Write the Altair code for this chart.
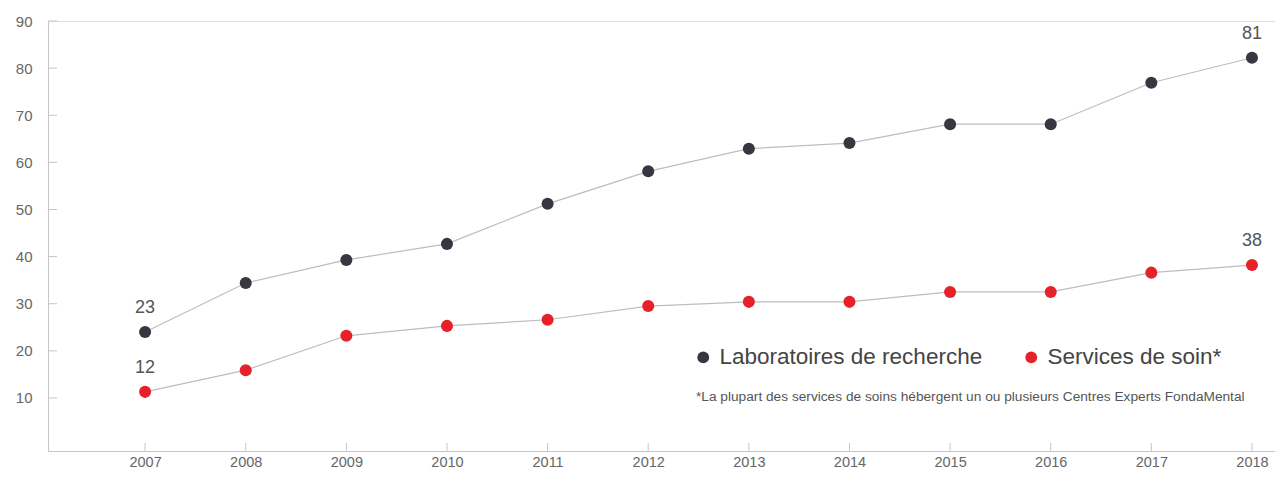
import altair as alt
import pandas as pd

years = [2007, 2008, 2009, 2010, 2011, 2012, 2013, 2014, 2015, 2016, 2017, 2018]
labs = [24.0, 34.4, 39.3, 42.7, 51.2, 58.1, 62.9, 64.1, 68.1, 68.1, 76.9, 82.2]
soins = [11.3, 15.9, 23.2, 25.3, 26.6, 29.5, 30.4, 30.4, 32.5, 32.5, 36.6, 38.2]
series_names = ["Laboratoires de recherche", "Services de soin*"]
series_colors = ["#3a3540", "#e62129"]
end_labels_labs = ["23", "81"]
end_labels_soins = ["12", "38"]
y_ticks = [10, 20, 30, 40, 50, 60, 70, 80, 90]
footnote = "*La plupart des services de soins hébergent un ou plusieurs Centres Experts FondaMental"

rows = []
for name, vals in zip(series_names, [labs, soins]):
    for y, v in zip(years, vals):
        rows.append({"year": y, "value": v, "serie": name})
df = pd.DataFrame(rows)

lab_rows = [
    {"year": years[0], "value": labs[0], "txt": end_labels_labs[0]},
    {"year": years[-1], "value": labs[-1], "txt": end_labels_labs[1]},
    {"year": years[0], "value": soins[0], "txt": end_labels_soins[0]},
    {"year": years[-1], "value": soins[-1], "txt": end_labels_soins[1]},
]
df_lab = pd.DataFrame(lab_rows)
df_yt = pd.DataFrame({"t": y_ticks})
df_xt = pd.DataFrame({"year": years})

FONT = "Liberation Sans"
H = 430
xscale = alt.Scale(domain=[2006.035, 2018.229], nice=False, zero=False)
yscale = alt.Scale(domain=[-1.25, 90], nice=False, zero=False)

X = alt.X("year:Q", scale=xscale, title=None,
          axis=alt.Axis(values=years, format="d", grid=False, ticks=False,
                        domainColor="#c9c5c7", labelFontSize=14.5, labelColor="#666666",
                        labelFont=FONT, labelPadding=4))
Y = alt.Y("value:Q", scale=yscale, title=None,
          axis=alt.Axis(values=y_ticks, grid=False, ticks=False,
                        domainColor="#c9c5c7", labelFontSize=15, labelColor="#666666",
                        labelFont=FONT, labelPadding=16))

color = alt.Color("serie:N",
                  scale=alt.Scale(domain=series_names, range=series_colors),
                  legend=alt.Legend(title=None, orient="none", legendX=644, legendY=325,
                                    direction="horizontal", symbolType="circle",
                                    symbolSize=140, labelFontSize=22.5, labelColor="#444444",
                                    labelFont=FONT, labelOffset=5, labelLimit=400,
                                    columnPadding=37, padding=0, symbolStrokeWidth=0))

lines = alt.Chart(df).mark_line(color="#bdbdbd", strokeWidth=1.2).encode(
    x=X, y=Y, detail="serie:N")
points = alt.Chart(df).mark_point(filled=True, size=145, opacity=1).encode(
    x=X, y=Y, color=color)

labels = alt.Chart(df_lab).mark_text(fontSize=18, color="#555555", font=FONT,
                                     dy=-24).encode(
    x=alt.X("year:Q", scale=xscale), y=alt.Y("value:Q", scale=yscale), text="txt:N")

ytick = alt.Chart(df_yt).mark_rule(color="#c9c5c7", strokeWidth=1).encode(
    y=alt.Y("t:Q", scale=yscale), x=alt.value(0), x2=alt.value(9))
xtick = alt.Chart(df_xt).mark_rule(color="#c9c5c7", strokeWidth=1).encode(
    x=alt.X("year:Q", scale=xscale), y=alt.value(H - 8), y2=alt.value(H))

note = alt.Chart(pd.DataFrame({"t": [footnote]})).mark_text(
    align="left", baseline="middle", fontSize=13.7, color="#555555", font=FONT
).encode(x=alt.value(648), y=alt.value(376), text="t:N")

chart = alt.layer(ytick, xtick, lines, points, labels, note).properties(
    width=1227, height=H,
    autosize=alt.AutoSizeParams(type="none"),
    padding={"left": 40, "top": 13, "right": 0, "bottom": 22},
).configure_view(strokeWidth=0, stroke="transparent").configure(background="white")

chart.save("out.html", embed_options={"renderer": "svg", "actions": False})
